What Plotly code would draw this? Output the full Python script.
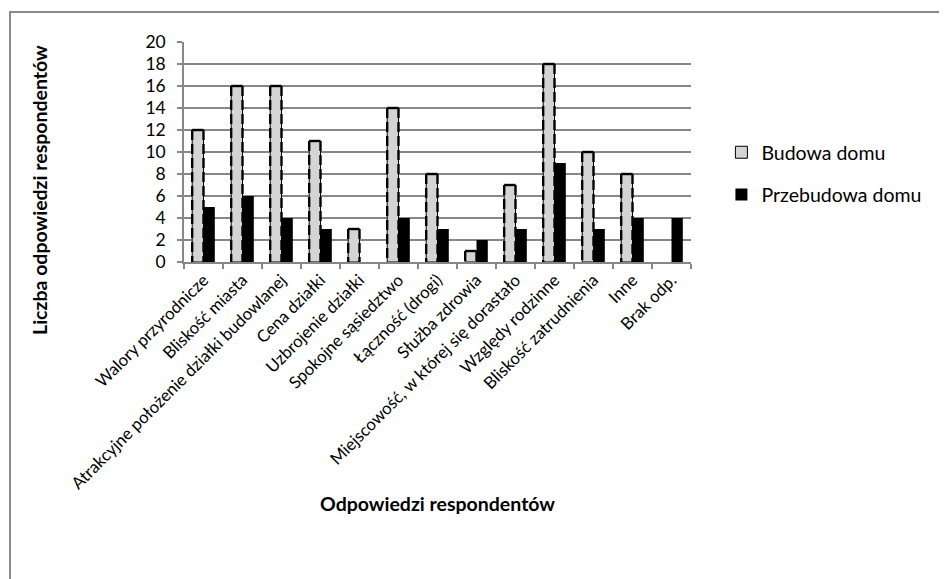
import plotly.graph_objects as go

categories = [
    "Walory przyrodnicze", "Bliskość miasta", "Atrakcyjne położenie działki budowlanej",
    "Cena działki", "Uzbrojenie działki", "Spokojne sąsiedztwo", "Łączność (drogi)",
    "Służba zdrowia", "Miejscowość, w której się dorastało", "Względy rodzinne",
    "Bliskość zatrudnienia", "Inne", "Brak odp.",
]
budowa = [12, 16, 16, 11, 3, 14, 8, 1, 7, 18, 10, 8, 0]
przebudowa = [5, 6, 4, 3, 0, 4, 3, 2, 3, 9, 3, 4, 4]
y_ticks = [0, 2, 4, 6, 8, 10, 12, 14, 16, 18, 20]

FONT = "Lato"
GRID = "#878787"
W_BAR = 0.29
x_idx = list(range(len(categories)))

# page body adds an 8px offset; figure is laid out in its own coordinates
FW, FH = 939, 571
L, T, PW, PH = 176, 34, 507, 220

fig = go.Figure()
fig.add_trace(go.Bar(
    x=x_idx, y=budowa, name="Budowa domu", width=W_BAR, offset=-W_BAR,
    marker=dict(color="#d4d4d4",
                line=dict(color="#000000", width=[1 if v > 0 else 0 for v in budowa])),
    legendgroup="a",
))
fig.add_trace(go.Bar(
    x=x_idx, y=przebudowa, name="Przebudowa domu", width=W_BAR, offset=0,
    marker=dict(color="#000000", line=dict(width=0)),
    legendgroup="b",
))

# dashed outlines of "Budowa domu" bars, derived from the data
sx, sy, tx, ty = [], [], [], []
for i, v in zip(x_idx, budowa):
    if v <= 0:
        continue
    x0, x1 = i - W_BAR, i
    sx += [x0, x0, None, x1, x1, None]
    sy += [v, 0, None, v, 0, None]
    tx += [x0, x1, None]
    ty += [v, v, None]
fig.add_trace(go.Scatter(x=sx, y=sy, mode="lines", showlegend=False, hoverinfo="skip",
                         line=dict(color="#000000", width=2.4, dash="10px,4px")))
fig.add_trace(go.Scatter(x=tx, y=ty, mode="lines", showlegend=False, hoverinfo="skip",
                         line=dict(color="#000000", width=2.4)))

fig.update_layout(
    width=FW, height=FH,
    margin=dict(l=L, r=FW - L - PW, t=T, b=FH - T - PH, autoexpand=False),
    paper_bgcolor="white", plot_bgcolor="white",
    barmode="overlay",
    font=dict(family=FONT, color="#000000"),
    showlegend=True,
    legend=dict(x=1.06, xanchor="left", y=0.586, yanchor="top",
                font=dict(family=FONT, size=19.5, color="#000000"),
                tracegroupgap=14, bgcolor="rgba(0,0,0,0)"),
    xaxis=dict(
        range=[-0.5, len(categories) - 0.5],
        tickmode="array", tickvals=x_idx, ticktext=categories,
        tickangle=-45, ticks="", showgrid=False, zeroline=False,
        showline=True, linecolor=GRID, linewidth=1.5,
        tickfont=dict(family=FONT, size=16.8, color="#000000"),
        minor=dict(tickmode="array", tickvals=[i - 0.5 for i in range(len(categories) + 1)],
                   ticks="outside", ticklen=5, tickcolor=GRID, tickwidth=1.5, showgrid=False),
        fixedrange=True,
    ),
    yaxis=dict(
        range=[0, 20], tickmode="array", tickvals=y_ticks,
        ticks="outside", ticklen=5, tickcolor=GRID, tickwidth=1.5,
        ticklabelstandoff=8,
        showgrid=True, gridcolor=GRID, gridwidth=1.5, zeroline=False,
        showline=True, linecolor=GRID, linewidth=1.5,
        tickfont=dict(family=FONT, size=17.5, color="#000000"),
        fixedrange=True,
    ),
    annotations=[
        dict(text="<b>Liczba odpowiedzi respondentów</b>", xref="paper", yref="paper",
             x=(31 - L) / PW, y=1 - (182 - T) / PH, xanchor="center", yanchor="middle",
             textangle=-90, showarrow=False,
             font=dict(family=FONT, size=19.5, color="#000000")),
        dict(text="<b>Odpowiedzi respondentów</b>", xref="paper", yref="paper",
             x=(429 - L) / PW, y=-(495 - (T + PH)) / PH, xanchor="center", yanchor="middle",
             showarrow=False, font=dict(family=FONT, size=19.5, color="#000000")),
    ],
    shapes=[
        dict(type="rect", xref="paper", yref="paper",
             x0=(2 - L) / PW, x1=2.5, y0=-3.0, y1=1 + (T - 4) / PH,
             line=dict(color="#8a8a8a", width=2), fillcolor="rgba(0,0,0,0)", layer="below"),
    ],
)

fig.write_html("out.html")
